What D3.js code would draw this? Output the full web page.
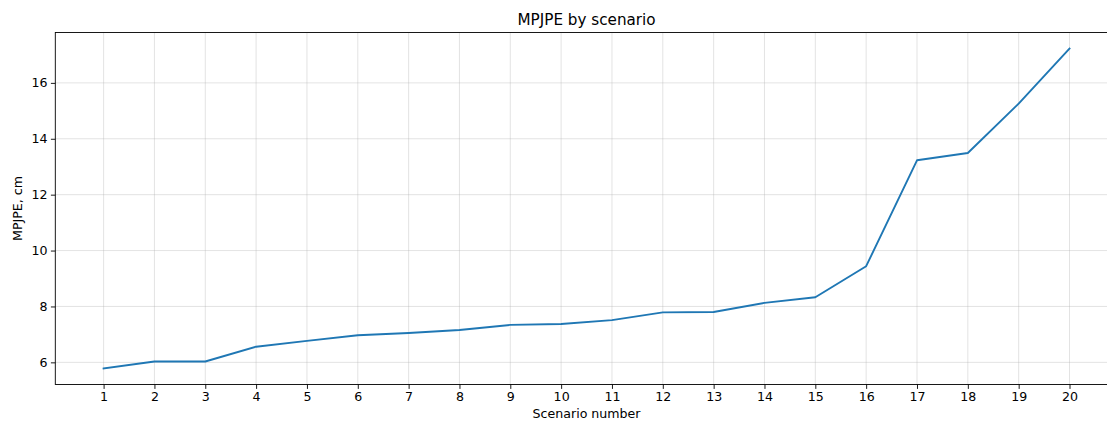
<!DOCTYPE html>
<html><head><meta charset="utf-8">
<script src="https://cdn.jsdelivr.net/npm/d3@7"></script>
<style>body{margin:0;background:#fff}svg{display:block}text{font-family:"DejaVu Sans",sans-serif;fill:#000}</style>
</head><body><svg id="c" width="1107" height="421"></svg>
<script>
const scenarios = [1,2,3,4,5,6,7,8,9,10,11,12,13,14,15,16,17,18,19,20];
const mpjpe = [5.78,6.03,6.03,6.56,6.77,6.97,7.05,7.16,7.34,7.37,7.51,7.79,7.80,8.13,8.33,9.44,13.23,13.49,15.26,17.23];
const yTicks = [6,8,10,12,14,16];
const title = "MPJPE by scenario";
const xLabel = "Scenario number";
const yLabel = "MPJPE, cm";

const svg = d3.select("#c");
const L = 55.3, R = 1117.8, T = 32.5, B = 384.5;
const xmin = d3.min(scenarios), xmax = d3.max(scenarios), xm = (xmax-xmin)*0.05;
const ymin = d3.min(mpjpe), ymax = d3.max(mpjpe), ym = (ymax-ymin)*0.05;
const x = d3.scaleLinear().domain([xmin-xm, xmax+xm]).range([L, R]);
const y = d3.scaleLinear().domain([ymin-ym, ymax+ym]).range([B, T]);

// grid
const g = svg.append("g");
g.selectAll("line.vx").data(scenarios).join("line")
  .attr("x1", d=>x(d)).attr("x2", d=>x(d)).attr("y1", T).attr("y2", B)
  .attr("stroke", "#b0b0b0").attr("stroke-opacity", 0.35).attr("stroke-width", 1);
g.selectAll("line.hy").data(yTicks).join("line")
  .attr("x1", L).attr("x2", R).attr("y1", d=>y(d)).attr("y2", d=>y(d))
  .attr("stroke", "#b0b0b0").attr("stroke-opacity", 0.35).attr("stroke-width", 1);

// line
svg.append("path").datum(scenarios.map((s,i)=>[s, mpjpe[i]]))
  .attr("d", d3.line().x(d=>x(d[0])).y(d=>y(d[1])))
  .attr("fill", "none").attr("stroke", "#1f77b4").attr("stroke-width", 1.9)
  .attr("stroke-linejoin", "round").attr("stroke-linecap", "square");

// axes
const xa = svg.append("g").attr("transform", `translate(0,${B})`)
  .call(d3.axisBottom(x).tickValues(scenarios).tickFormat(d3.format("d")).tickSizeInner(4.4).tickSizeOuter(0).tickPadding(3.5));
const ya = svg.append("g").attr("transform", `translate(${L},0)`)
  .call(d3.axisLeft(y).tickValues(yTicks).tickFormat(d3.format("d")).tickSizeInner(4.4).tickSizeOuter(0).tickPadding(3.5));
[xa, ya].forEach(a => {
  a.select(".domain").remove();
  a.selectAll("text").attr("font-size", "12.6px").attr("font-family", "DejaVu Sans").attr("fill", "#000");
  a.selectAll("line").attr("stroke", "#000").attr("stroke-width", 0.9);
});

// spines
svg.append("rect").attr("x", L).attr("y", T).attr("width", R-L).attr("height", B-T)
  .attr("fill", "none").attr("stroke", "#000").attr("stroke-width", 0.9);

// labels
svg.append("text").attr("x", (L+R)/2).attr("y", 25).attr("text-anchor", "middle")
  .attr("font-size", "15.2px").text(title);
svg.append("text").attr("x", (L+R)/2).attr("y", 417.5).attr("text-anchor", "middle")
  .attr("font-size", "12.6px").text(xLabel);
svg.append("text").attr("transform", `translate(22,${(T+B)/2}) rotate(-90)`).attr("text-anchor", "middle")
  .attr("font-size", "12.6px").text(yLabel);
</script></body></html>
